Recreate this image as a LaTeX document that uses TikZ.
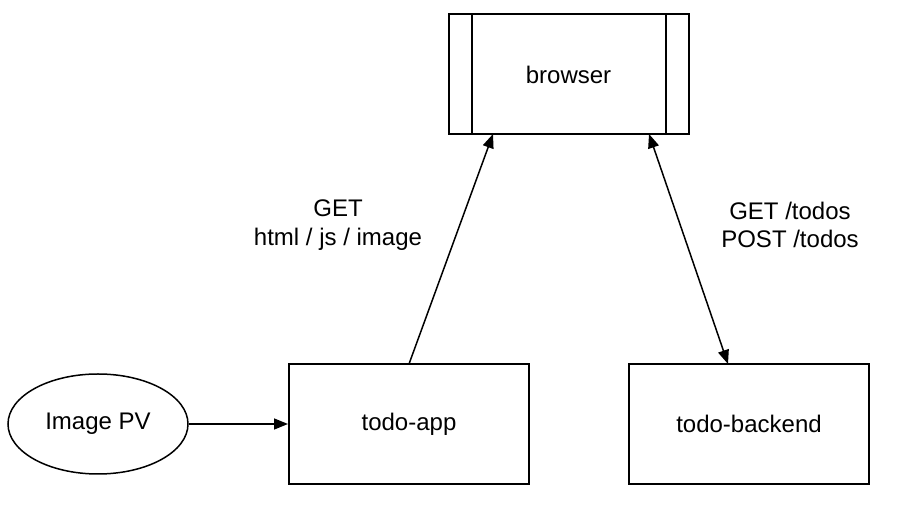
\documentclass[tikz,border=0pt]{standalone}
\usepackage{fontspec}
\setmainfont{Liberation Sans}
\usetikzlibrary{arrows.meta,shapes.geometric}
\begin{document}
\begin{tikzpicture}[x=0.5pt,y=-0.5pt,
  box/.style={draw,line width=1pt,minimum width=120pt,minimum height=60pt,inner sep=0pt,font=\fontsize{12}{14.4}\selectfont},
  lbl/.style={align=center,font=\fontsize{12}{14.4}\selectfont},
  conn/.style={line width=0.75pt,-{Triangle[length=7pt,width=5.5pt]}},
  >={Triangle[length=7pt,width=5.5pt]}]
\useasboundingbox (0,0) rectangle (910,506);
\node[box] (browser) at (568.5,74.5) {browser};
\draw[line width=1pt] ([xshift=12pt]browser.north west) -- ([xshift=12pt]browser.south west);
\draw[line width=1pt] ([xshift=-12pt]browser.north east) -- ([xshift=-12pt]browser.south east);
\node[box] (app) at (409,424) {todo-app};
\node[box] (backend) at (749,424) {todo-backend};
\node[draw,ellipse,line width=0.75pt,minimum width=90pt,minimum height=50pt,inner sep=0pt,font=\fontsize{12}{14.4}\selectfont] (pv) at (98,424) {Image PV};
\coordinate (a1) at (409,364);
\coordinate (a2) at (493,134);
\coordinate (b1) at (649,134);
\coordinate (b2) at (728,364);
\draw[conn] (pv.east) -- (app.west);
\draw[conn] (a1) -- (a2);
\draw[line width=0.75pt,<->] (b1) -- (b2);
\node[lbl] (l1) at (338,225) {GET\\html / js / image};
\node[lbl] (l2) at (790,225) {GET /todos\\POST /todos};
\end{tikzpicture}
\end{document}
